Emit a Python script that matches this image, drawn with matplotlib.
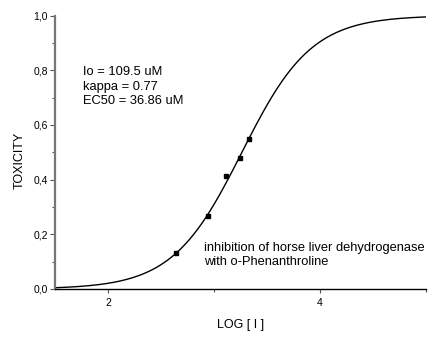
import numpy as np
from matplotlib import pyplot as plt
from matplotlib.ticker import FuncFormatter, MultipleLocator

# measured points
log_i = [2.64, 2.94, 3.11, 3.25, 3.33]
toxicity = [0.132, 0.268, 0.413, 0.479, 0.550]

# fitted sigmoid parameters
x_half = 3.264
slope = 1.323

fit_text = ["Io = 109.5 uM", "kappa = 0.77", "EC50 = 36.86 uM"]
note_text = ["inhibition of horse liver dehydrogenase", "with o-Phenanthroline"]


def main():
    plt.rcParams['font.family'] = ['Liberation Sans', 'DejaVu Sans']
    fig = plt.figure(figsize=(4.4, 3.38), dpi=100)
    ax = fig.add_axes([0.125, 0.145, 0.843, 0.809])

    xs = np.linspace(1.5, 5.0, 300)
    ys = 1 / (1 + 10 ** (slope * (x_half - xs)))
    ax.plot(xs, ys, color='black', lw=1.0)
    ax.plot(log_i, toxicity, linestyle='None', marker='s', ms=3.2, color='black')

    ax.set_xlim(1.5, 5.0)
    ax.set_ylim(0, 1.0)
    ax.xaxis.set_major_locator(MultipleLocator(2))
    ax.xaxis.set_minor_locator(MultipleLocator(1))
    ax.yaxis.set_major_locator(MultipleLocator(0.2))
    ax.yaxis.set_minor_locator(MultipleLocator(0.1))
    ax.yaxis.set_major_formatter(FuncFormatter(lambda v, p: f"{v:.1f}".replace('.', ',')))
    ax.xaxis.set_major_formatter(FuncFormatter(lambda v, p: f"{v:.0f}"))

    for s in ['top', 'right']:
        ax.spines[s].set_visible(False)
    ax.spines['left'].set_color('#777777')
    ax.spines['left'].set_linewidth(1.6)
    ax.spines['bottom'].set_color('black')
    ax.spines['bottom'].set_linewidth(1.0)

    ax.tick_params(which='major', length=3.5, width=0.8, color='#555555',
                   labelsize=7.5, pad=1.5)
    ax.tick_params(axis='x', which='major', length=3, pad=3.5)
    ax.tick_params(which='minor', length=2.2, width=0.8, color='#555555')

    ax.set_xlabel('LOG [ I ]', fontsize=9, labelpad=8)
    ax.set_ylabel('TOXICITY', fontsize=9)
    ax.yaxis.set_label_coords(-0.078, 0.47)

    ax.text(1.76, 0.74, "\n".join(fit_text), fontsize=9.3, va='center',
            linespacing=1.28)
    ax.text(2.91, 0.123, "\n".join(note_text), fontsize=9.3, va='center',
            linespacing=1.2)

    fig.savefig('out.png', dpi=100)


if __name__ == "__main__":
    main()
